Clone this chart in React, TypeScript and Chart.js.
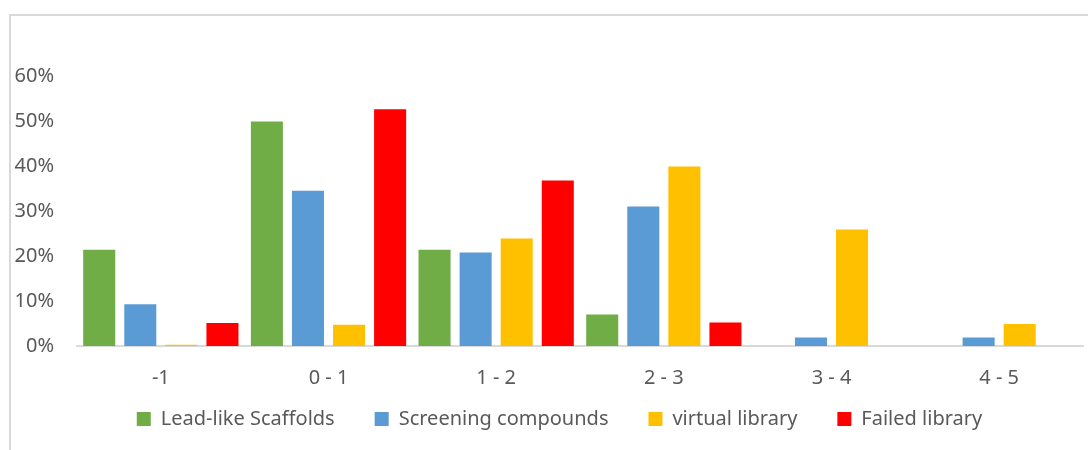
import React, { useEffect, useRef } from "react";
import { Chart, registerables } from "chart.js";

Chart.register(...registerables);

const categories = ["-1", "0 - 1", "1 - 2", "2 - 3", "3 - 4", "4 - 5"];
const leadLikeScaffolds = [21.4, 49.9, 21.4, 7.0, 0, 0];
const screeningCompounds = [9.3, 34.5, 20.8, 31.0, 1.9, 1.9];
const virtualLibrary = [0.3, 4.7, 23.9, 39.9, 25.9, 4.9];
const failedLibrary = [5.1, 52.6, 36.8, 5.2, 0, 0];
const yTickValues = [0, 10, 20, 30, 40, 50, 60];

const FONT = "'Noto Sans', sans-serif";
const TEXT = "#595959";

// nudges the legend box to where the reference places it
const legendShift = {
  id: "legendShift",
  afterLayout(chart: any) {
    const lg = chart.legend;
    if (!lg) return;
    const dx = 13;
    const dy = -22;
    lg.left += dx;
    lg.right += dx;
    lg.top += dy;
    lg.bottom += dy;
  },
};

export default function App() {
  const ref = useRef<HTMLCanvasElement | null>(null);

  useEffect(() => {
    if (!ref.current) return;
    const chart = new Chart(ref.current, {
      type: "bar",
      data: {
        labels: categories,
        datasets: [
          { label: "Lead-like Scaffolds", data: leadLikeScaffolds, backgroundColor: "#70AD47" },
          { label: "Screening compounds", data: screeningCompounds, backgroundColor: "#5B9BD5" },
          { label: "virtual library", data: virtualLibrary, backgroundColor: "#FFC000" },
          { label: "Failed library", data: failedLibrary, backgroundColor: "#FF0000" },
        ],
      },
      plugins: [legendShift],
      options: {
        animation: false,
        responsive: true,
        maintainAspectRatio: false,
        datasets: { bar: { categoryPercentage: 0.98, barPercentage: 0.78 } },
        layout: { padding: { top: 76, left: 10, right: 5, bottom: 0 } },
        plugins: {
          tooltip: { enabled: false },
          title: { display: false },
          legend: {
            position: "bottom",
            labels: {
              boxWidth: 14,
              boxHeight: 14,
              padding: 40,
              color: TEXT,
              font: { family: FONT, size: 20 },
            },
          },
        },
        scales: {
          x: {
            grid: { display: false, drawTicks: false },
            border: { display: true, color: "#d9d9d9", width: 2 },
            ticks: { color: TEXT, font: { family: FONT, size: 20 }, padding: 20 },
            afterFit: (s: any) => {
              s.height = 45;
            },
          },
          y: {
            min: 0,
            max: 60,
            afterBuildTicks: (s: any) => {
              s.ticks = yTickValues.map((v) => ({ value: v }));
            },
            grid: { display: false, drawTicks: false },
            border: { display: false },
            ticks: {
              color: TEXT,
              font: { family: FONT, size: 20 },
              padding: 23,
              callback: (v: any) => `${v}%`,
            },
            afterFit: (s: any) => {
              s.width = 67;
            },
          },
        },
      },
    });
    return () => chart.destroy();
  }, []);

  return (
    <div
      style={{
        position: "fixed",
        left: 0,
        top: 0,
        width: 1088,
        height: 450,
        overflow: "hidden",
        background: "#ffffff",
      }}
    >
      <div
        style={{
          position: "absolute",
          left: 9,
          top: 14,
          width: 1200,
          height: 600,
          borderLeft: "2px solid #d9d9d9",
          borderTop: "2px solid #d9d9d9",
          boxSizing: "border-box",
        }}
      />
      <div style={{ position: "absolute", left: 0, top: 0, width: 1088, height: 461 }}>
        <canvas ref={ref} />
      </div>
    </div>
  );
}
